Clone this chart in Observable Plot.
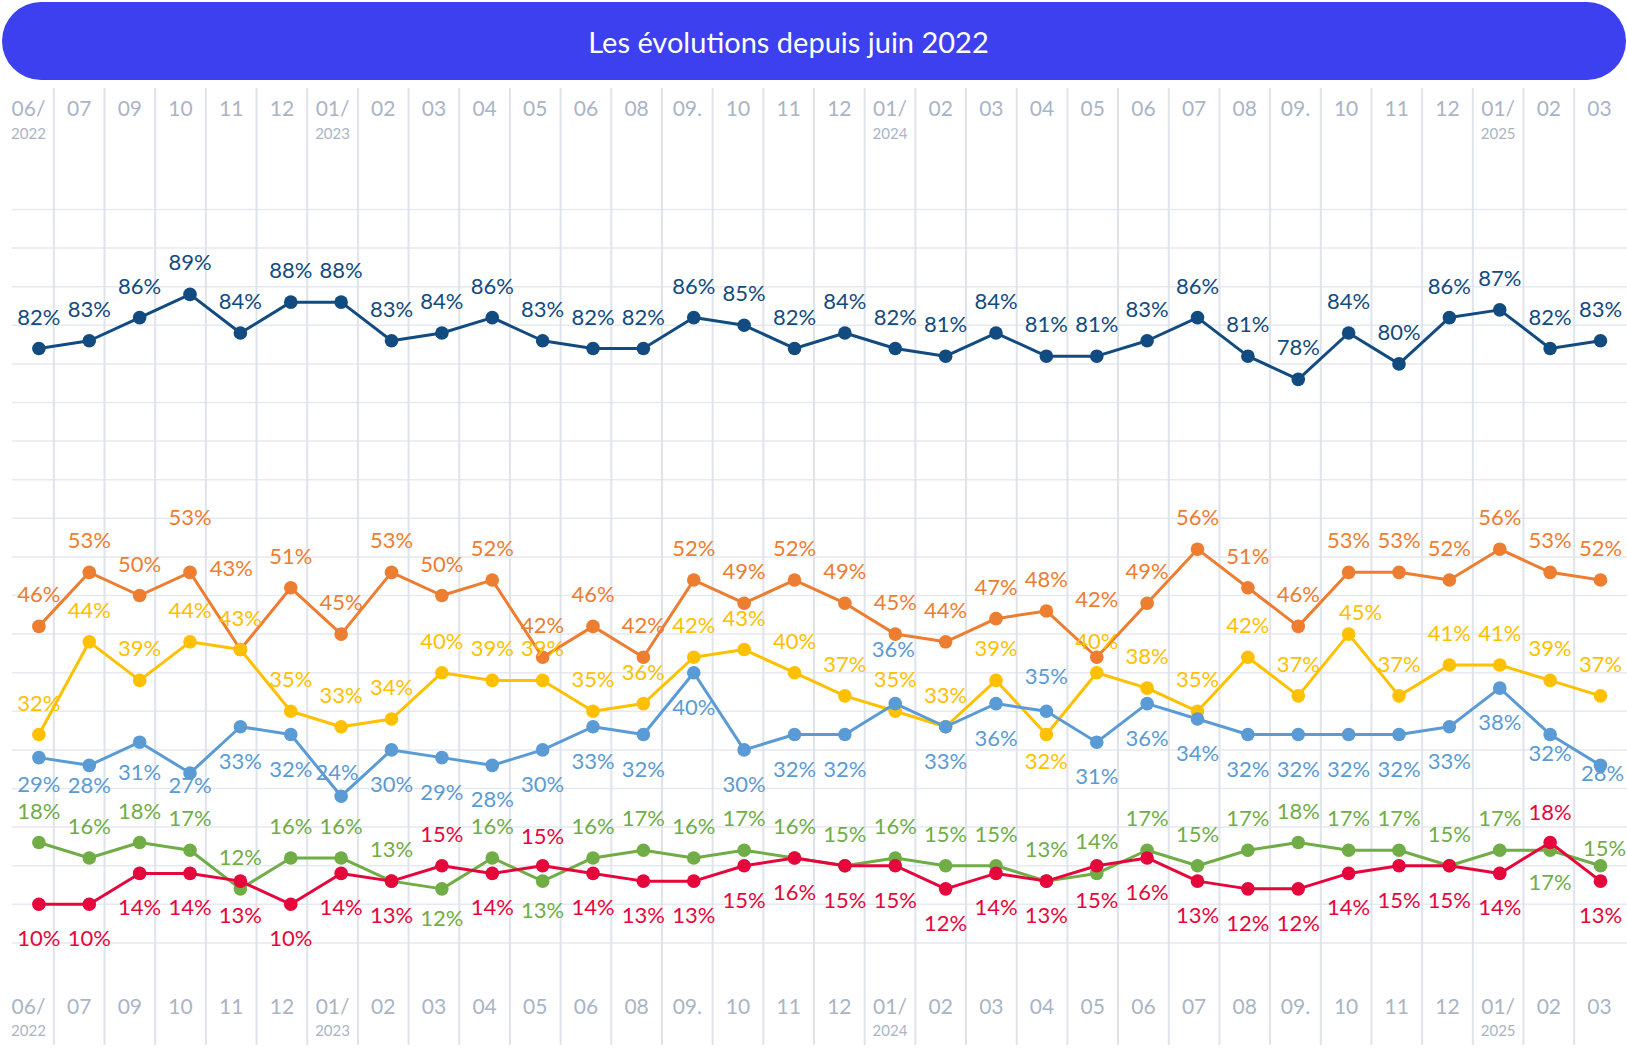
<!DOCTYPE html>
<html><head><meta charset="utf-8">
<script src="https://cdn.jsdelivr.net/npm/d3@7"></script>
<script src="https://cdn.jsdelivr.net/npm/@observablehq/plot@0.6"></script>
<style>
body{margin:0;background:#fff;font-family:Lato,sans-serif;}
#wrap{position:relative;width:1627px;height:1048px;overflow:hidden;background:#fff;}
#banner{position:absolute;left:2px;top:2px;width:1624px;height:78px;border-radius:39px;background:#3c40ee;color:#fff;font-family:Lato,sans-serif;font-size:29px;display:flex;align-items:center;justify-content:center;padding-right:51px;box-sizing:border-box;}
#chart{position:absolute;left:0;top:82px;width:1627px;height:966px;}
#chart svg{position:absolute;left:0;top:0;}
</style></head>
<body><div id="wrap"><div id="banner">Les évolutions depuis juin 2022</div><div id="chart"></div></div>
<script>
// ---- tick labels ----
const months = ["06/","07","09","10","11","12","01/","02","03","04","05","06","08","09.","10","11","12","01/","02","03","04","05","06","07","08","09.","10","11","12","01/","02","03"];
const years = ["2022",null,null,null,null,null,"2023",null,null,null,null,null,null,null,null,null,null,"2024",null,null,null,null,null,null,null,null,null,null,null,"2025",null,null];

// ---- series values (%) ----
const bleuFonce = [82,83,86,89,84,88,88,83,84,86,83,82,82,86,85,82,84,82,81,84,81,81,83,86,81,78,84,80,86,87,82,83];
const orange    = [46,53,50,53,43,51,45,53,50,52,42,46,42,52,49,52,49,45,44,47,48,42,49,56,51,46,53,53,52,56,53,52];
const jaune     = [32,44,39,44,43,35,33,34,40,39,39,35,36,42,43,40,37,35,33,39,32,40,38,35,42,37,45,37,41,41,39,37];
const bleuClair = [29,28,31,27,33,32,24,30,29,28,30,33,32,40,30,32,32,36,33,36,35,31,36,34,32,32,32,32,33,38,32,28];
const vert      = [18,16,18,17,12,16,16,13,12,16,13,16,17,16,17,16,15,16,15,15,13,14,17,15,17,18,17,17,15,17,17,15];
const rouge     = [10,10,14,14,13,10,14,13,15,14,15,14,13,13,15,16,15,15,12,14,13,15,16,13,12,12,14,15,15,14,18,13];

// ---- styling ----
const seriesList = [
  {values: bleuFonce, color: "#124b80", place: "above"},
  {values: orange,    color: "#ed7d31", place: "above"},
  {values: jaune,     color: "#ffc000", place: "above"},
  {values: bleuClair, color: "#5b9bd5", place: "below"},
  {values: vert,      color: "#70ad47", place: "above"},
  {values: rouge,     color: "#e5063c", place: "below"}
];
const placeOffset = {above: -31, below: 35};
// per-label adjustments [dx, dy] (label placement style)
const labelAdjust = [
  {},
  {3:[0,-54], 4:[-9,-81], 21:[0,-57]},
  {20:[0,27], 26:[12,-21]},
  {0:[0,27], 1:[0,21], 2:[0,31], 3:[0,13], 6:[-4,-23], 17:[-2,-54], 20:[0,-34], 30:[0,19], 31:[2,9]},
  {8:[0,30], 10:[0,30], 30:[0,33], 31:[4,-17]},
  {8:[0,-31], 10:[0,-29], 30:[0,-30]}
];

const W = 1627, H = 966;
const gridColor = "#e6e9ef", vGridColor = "#dfe3ea", tickColor = "#aab4c6";

const plotA = Plot.plot({
  width: W, height: H,
  marginLeft: 12, marginRight: 0, marginTop: 6, marginBottom: 3,
  x: {domain: [0, 31], range: [28, 1599], axis: null},
  y: {domain: [0, 100], range: [899, 127], axis: null},
  style: {background: "transparent", fontFamily: "Lato, sans-serif"},
  marks: [
    Plot.ruleY(d3.range(5, 101, 5), {stroke: gridColor, strokeWidth: 1.5}),
    Plot.ruleX(d3.range(months.length - 1), {x: d => d + 0.5, stroke: vGridColor, strokeWidth: 2}),
    Plot.text(months, {x: (d, i) => i, text: d => d, frameAnchor: "top", lineAnchor: "middle", dy: 21, fill: tickColor, fontSize: 21}),
    Plot.text(months, {x: (d, i) => i, text: d => d, frameAnchor: "bottom", lineAnchor: "middle", dy: -38.5, fill: tickColor, fontSize: 21}),
    Plot.text(years, {filter: d => d, x: (d, i) => i, text: d => d, frameAnchor: "top", lineAnchor: "middle", dy: 46, fill: tickColor, fontSize: 15}),
    Plot.text(years, {filter: d => d, x: (d, i) => i, text: d => d, frameAnchor: "bottom", lineAnchor: "middle", dy: -14, fill: tickColor, fontSize: 15})
  ]
});

const dataMarks = [];
seriesList.forEach((s, si) => {
  const pts = s.values.map((v, i) => ({i, v}));
  dataMarks.push(Plot.line(pts, {x: "i", y: "v", stroke: s.color, strokeWidth: 3}));
  dataMarks.push(Plot.dot(pts, {x: "i", y: "v", r: 6.8, fill: s.color}));
  const groups = d3.group(pts, p => {
    const a = labelAdjust[si][p.i];
    return a ? a.join(",") : "0," + placeOffset[s.place];
  });
  for (const [key, arr] of groups) {
    const [dx, dy] = key.split(",").map(Number);
    dataMarks.push(Plot.text(arr, {x: "i", y: "v", text: p => p.v + "%", dx, dy, fill: s.color, fontSize: 22}));
  }
});

const plotB = Plot.plot({
  width: W, height: H, margin: 0,
  x: {domain: [0, 31], range: [38.4, 1600], axis: null},
  y: {domain: [0, 100], range: [899, 127], axis: null},
  style: {background: "transparent", fontFamily: "Lato, sans-serif", overflow: "visible"},
  marks: dataMarks
});

const chart = document.getElementById("chart");
chart.appendChild(plotA);
chart.appendChild(plotB);
</script>
</body></html>
